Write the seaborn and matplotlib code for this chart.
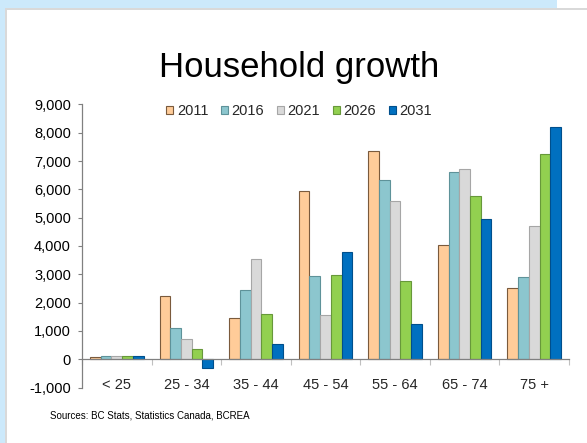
import matplotlib
matplotlib.use("Agg")
import matplotlib.pyplot as plt
from matplotlib.patches import Rectangle
from matplotlib.ticker import FuncFormatter, FixedLocator
import seaborn as sns
import pandas as pd

categories = ["< 25", "25 - 34", "35 - 44", "45 - 54", "55 - 64", "65 - 74", "75 +"]
years = ["2011", "2016", "2021", "2026", "2031"]
v2011 = [80, 2250, 1450, 5950, 7350, 4030, 2520]
v2016 = [120, 1100, 2450, 2950, 6320, 6620, 2890]
v2021 = [120, 720, 3530, 1560, 5580, 6720, 4720]
v2026 = [120, 350, 1580, 2970, 2750, 5750, 7250]
v2031 = [110, -300, 550, 3800, 1250, 4950, 8200]
series = [v2011, v2016, v2021, v2026, v2031]

fills = ["#FFCC99", "#8CC6CE", "#D9D9D9", "#92D050", "#0070C0"]
edges = ["#7A5A3C", "#5E9299", "#A6A6A6", "#67983A", "#004F8C"]

rows = []
for y, vals in zip(years, series):
    for c, v in zip(categories, vals):
        rows.append({"Age": c, "Year": y, "Households": v})
df = pd.DataFrame(rows)

sns.set_style("white")
plt.rcParams["font.family"] = ["Liberation Sans", "DejaVu Sans"]

W, H = 587, 443
fig = plt.figure(figsize=(W / 100, H / 100), dpi=100)
fig.patch.set_facecolor("white")

def px(x0, y0, w, h, **kw):
    r = Rectangle((x0 / W, 1 - (y0 + h) / H), w / W, h / H,
                  transform=fig.transFigure, linewidth=0, **kw)
    fig.add_artist(r)

# slide background decorations
px(0, 0, 557, 8, facecolor="#CCE9FB")
px(0, 0, 5, H, facecolor="#CCE9FB")
px(5, 8, W - 5, 2, facecolor="#D9D9D9")
px(5, 8, 2, H - 8, facecolor="#D9D9D9")

ax_left, ax_right, ax_top, ax_bot = 82, 569, 104.5, 387.5
ax = fig.add_axes([ax_left / W, 1 - ax_bot / H, (ax_right - ax_left) / W, (ax_bot - ax_top) / H])
ax.set_facecolor("none")

sns.barplot(data=df, x="Age", y="Households", hue="Year", order=categories,
            hue_order=years, palette=fills, width=0.77, ax=ax, saturation=1,
            legend=True)

for cont, ec in zip(ax.containers, edges):
    for p in cont:
        p.set_edgecolor(ec)
        p.set_linewidth(0.8)

ax.set_ylim(-1000, 9000)
ax.set_xlim(-0.5, 6.5)
ax.set_yticks(range(-1000, 9001, 1000))
ax.yaxis.set_major_formatter(FuncFormatter(lambda v, p: f"{int(v):,}"))
ax.tick_params(axis="y", which="major", direction="out", length=3, width=0.8,
               color="#808080", labelsize=10.5, pad=5, left=True, labelcolor="black")

ax.spines["bottom"].set_position(("data", 0))
for s in ["top", "right"]:
    ax.spines[s].set_visible(False)
for s in ["left", "bottom"]:
    ax.spines[s].set_color("#808080")
    ax.spines[s].set_linewidth(0.9)
ax.spines["bottom"].set_zorder(5)

ax.xaxis.set_major_locator(FixedLocator([i + 0.5 for i in range(-1, 7)]))
ax.xaxis.set_minor_locator(FixedLocator(list(range(7))))
ax.set_xticklabels([""] * 8)
ax.set_xticklabels(categories, minor=True)
ax.tick_params(axis="x", which="major", direction="out", length=4, width=0.8,
               color="#C0C0C0", bottom=True)
ax.tick_params(axis="x", which="minor", length=0, labelsize=10.5, pad=13.5, bottom=True)
ax.set_xlabel("")
ax.set_ylabel("")
ax.grid(False)

leg = ax.get_legend()
handles = leg.legend_handles
for h, ec in zip(handles, edges):
    h.set_edgecolor(ec)
    h.set_linewidth(0.8)
leg.remove()
fig.legend(handles, years, loc="center", bbox_to_anchor=(299 / W, 1 - 111 / H),
           ncol=5, frameon=False, fontsize=10.5, handlelength=0.5, handleheight=0.5,
           handletextpad=0.25, columnspacing=0.85, borderpad=0)

fig.text(299 / W, 1 - 77 / H, "Household growth", ha="center", va="baseline",
         fontsize=25, color="black")
fig.text(50 / W, 1 - 415 / H, "Sources: BC Stats, Statistics Canada, BCREA",
         ha="left", va="center", fontsize=7, color="black")

fig.savefig("out.png", dpi=100)
